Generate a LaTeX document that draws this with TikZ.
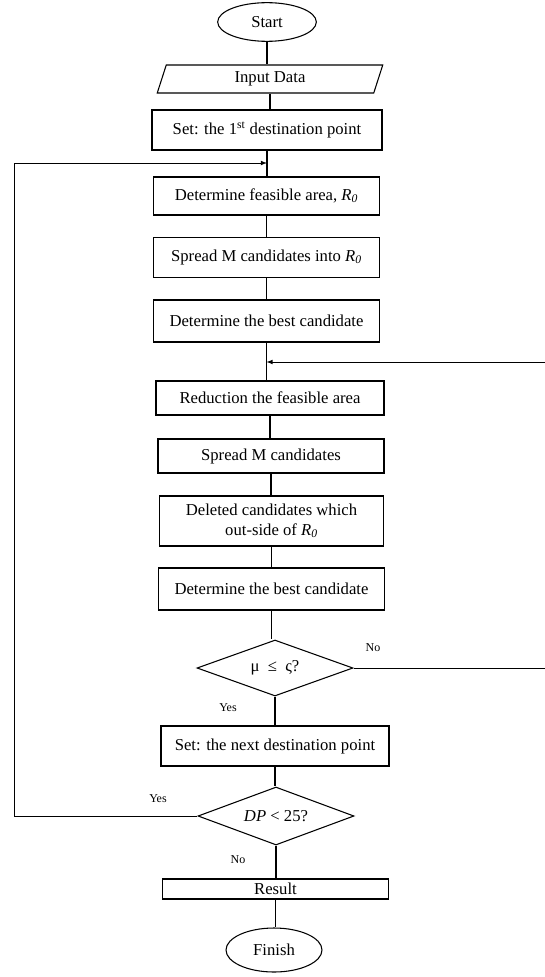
\documentclass[tikz,border=0pt]{standalone}
\usepackage{fontspec}
\setmainfont{Liberation Serif}
\usetikzlibrary{shapes.geometric}

\begin{document}
\begin{tikzpicture}[x=0.75pt, y=-0.75pt, line width=0.8pt,
    font=\fontsize{12.5}{14.5}\selectfont,
    box/.style={draw, rectangle, inner sep=1pt, align=center},
    term/.style={draw, ellipse, inner sep=0pt},
    io/.style={draw, trapezium, trapezium left angle=78, trapezium right angle=102,
        trapezium stretches=true, inner sep=0pt},
    decision/.style={draw, diamond, aspect=2.7, inner sep=0pt},
    lbl/.style={font=\fontsize{9}{10}\selectfont, inner sep=0pt},
    loop/.style={line width=0.6pt, -latex}]

    \useasboundingbox (0,0) rectangle (545,977);

    \node[term, minimum width=74pt, minimum height=29pt] (start) at (267,22) {Start};
    \node[io, minimum width=169.5pt, minimum height=21pt] (input) at (270,79) {Input Data};
    \node[box, minimum width=172.5pt, minimum height=30pt] (set1) at (267,130)
        {Set: the 1\textsuperscript{st} destination point};
    \node[box, minimum width=170pt, minimum height=28.5pt] (feas) at (266.5,196)
        {Determine feasible area, \textit{R\textsubscript{0}}};
    \node[box, minimum width=170pt, minimum height=30.5pt] (spread1) at (266.5,257.5)
        {Spread M candidates into \textit{R\textsubscript{0}}};
    \node[box, minimum width=170pt, minimum height=31.5pt] (best1) at (266.5,321)
        {Determine the best candidate};
    \node[box, minimum width=171pt, minimum height=25.5pt] (reduce) at (270,398)
        {Reduction the feasible area};
    \node[box, minimum width=169.5pt, minimum height=25.5pt] (spread2) at (271,456)
        {Spread M candidates};
    \node[box, minimum width=168.5pt, minimum height=37.5pt] (delete) at (271.5,521)
        {Deleted candidates which\\out-side of \textit{R\textsubscript{0}}};
    \node[box, minimum width=170pt, minimum height=31.5pt] (best2) at (271.5,589)
        {Determine the best candidate};
    \node[decision, minimum width=117pt, minimum height=42pt] (dec1) at (275,668)
        {μ\enspace≤\enspace ς?};
    \node[box, minimum width=171pt, minimum height=30pt] (setnext) at (275,746)
        {Set: the next destination point};
    \node[decision, minimum width=117pt, minimum height=43.5pt] (dec2) at (276,816)
        {\textit{DP} < 25?};
    \node[box, minimum width=170pt, minimum height=15pt] (result) at (275.5,889) {Result};
    \node[term, minimum width=72pt, minimum height=33pt] (finish) at (274,950) {Finish};

    \node[lbl] (no1) at (373,648) {No};
    \node[lbl] (yes1) at (228,708) {Yes};
    \node[lbl] (yes2) at (158,799) {Yes};
    \node[lbl] (no2) at (238,860) {No};

    \foreach \a/\b in {start/input, input/set1, set1/feas, feas/spread1, spread1/best1,
        best1/reduce, reduce/spread2, spread2/delete, delete/best2, best2/dec1,
        dec1/setnext, setnext/dec2, dec2/result, result/finish}
        \draw (\a.south) -- (\a.south |- \b.north);

    \coordinate (j1) at (set1.south |- 0,163);
    \coordinate (j2) at (best1.south |- 0,362);
    \draw[loop] (dec2.west) -| (14,163) -- (j1);
    \draw[loop] (dec1.east) -| (548,362) -- (j2);
\end{tikzpicture}
\end{document}
